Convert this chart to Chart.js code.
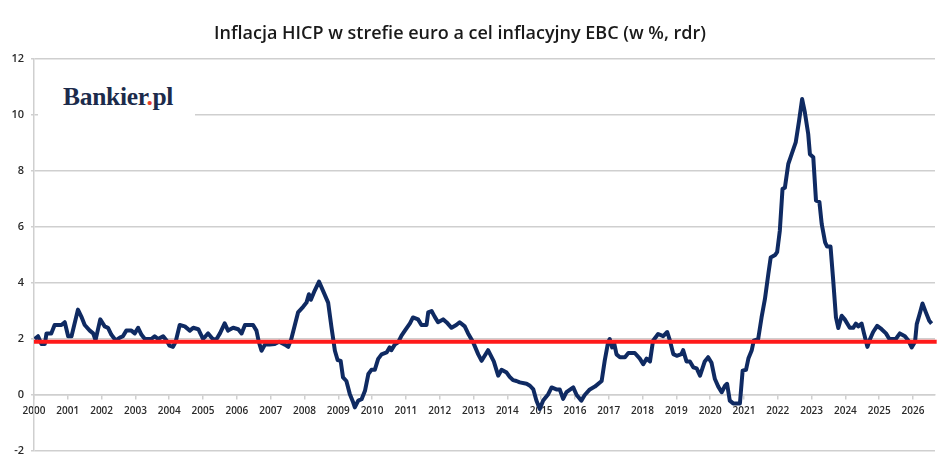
<!DOCTYPE html>
<html>
<head>
<meta charset="utf-8">
<script src="https://cdn.jsdelivr.net/npm/chart.js@4"></script>
<style>
  html, body { margin: 0; padding: 0; background: #fff; }
  #wrap { position: relative; width: 948px; height: 471px; }
  #title {
    position: absolute; left: 0; width: 920px; top: 20px;
    text-align: center; font-family: "Open Sans", sans-serif; font-weight: 600;
    font-size: 18px; color: #1a1a1a; white-space: nowrap;
  }
  #logo {
    position: absolute; left: 38px; top: 70px; width: 157px; height: 54px;
    background: #fff; font-family: "Liberation Serif", serif; font-weight: bold;
    font-size: 25.5px; color: #1c2b4b; padding-left: 25px; box-sizing: border-box;
    line-height: 54px; letter-spacing: -0.3px;
  }
  #logo span { color: #e8412c; }
</style>
</head>
<body>
<div id="wrap">
  <canvas id="chart" width="948" height="471"></canvas>
  <div id="title">Inflacja HICP w strefie euro a cel inflacyjny EBC (w %, rdr)</div>
  <div id="logo">Bankier<span>.</span>pl</div>
</div>
<script>
// =========================
//  DATA
// =========================
const hicpYears = [
  2000.02, 2000.12, 2000.22, 2000.32, 2000.37, 2000.51, 2000.61, 2000.81, 2000.91, 2001.01,
  2001.11, 2001.30, 2001.40, 2001.50, 2001.65, 2001.75, 2001.82, 2001.96, 2002.09, 2002.19,
  2002.29, 2002.42, 2002.54, 2002.63, 2002.73, 2002.88, 2002.98, 2003.08, 2003.18, 2003.28,
  2003.47, 2003.57, 2003.67, 2003.82, 2003.92, 2004.01, 2004.11, 2004.19, 2004.31, 2004.46,
  2004.61, 2004.71, 2004.86, 2005.00, 2005.15, 2005.30, 2005.40, 2005.50, 2005.64, 2005.74,
  2005.89, 2006.04, 2006.14, 2006.24, 2006.48, 2006.58, 2006.65, 2006.73, 2006.83, 2006.97,
  2007.12, 2007.25, 2007.42, 2007.52, 2007.61, 2007.71, 2007.81, 2007.96, 2008.06, 2008.13,
  2008.19, 2008.30, 2008.43, 2008.55, 2008.70, 2008.80, 2008.90, 2008.98, 2009.07, 2009.14,
  2009.24, 2009.34, 2009.44, 2009.49, 2009.59, 2009.69, 2009.79, 2009.89, 2009.98, 2010.08,
  2010.18, 2010.28, 2010.43, 2010.52, 2010.57, 2010.67, 2010.77, 2010.87, 2010.97, 2011.12,
  2011.21, 2011.36, 2011.46, 2011.61, 2011.66, 2011.76, 2011.85, 2011.95, 2012.10, 2012.20,
  2012.35, 2012.49, 2012.59, 2012.74, 2012.84, 2012.99, 2013.14, 2013.24, 2013.43, 2013.60,
  2013.73, 2013.83, 2013.98, 2014.07, 2014.17, 2014.27, 2014.37, 2014.57, 2014.67, 2014.77,
  2014.86, 2014.96, 2015.06, 2015.21, 2015.31, 2015.45, 2015.55, 2015.65, 2015.75, 2015.95,
  2016.05, 2016.19, 2016.29, 2016.44, 2016.59, 2016.79, 2016.88, 2016.98, 2017.03, 2017.10,
  2017.16, 2017.23, 2017.33, 2017.48, 2017.58, 2017.77, 2017.92, 2018.02, 2018.12, 2018.22,
  2018.31, 2018.46, 2018.61, 2018.73, 2018.81, 2018.91, 2019.01, 2019.15, 2019.20, 2019.30,
  2019.40, 2019.50, 2019.60, 2019.70, 2019.84, 2019.94, 2020.04, 2020.14, 2020.24, 2020.34,
  2020.44, 2020.50, 2020.58, 2020.68, 2020.88, 2020.96, 2021.06, 2021.13, 2021.23, 2021.29,
  2021.42, 2021.52, 2021.62, 2021.72, 2021.79, 2021.92, 2021.98, 2022.06, 2022.14, 2022.21,
  2022.31, 2022.41, 2022.53, 2022.63, 2022.72, 2022.80, 2022.90, 2022.95, 2023.05, 2023.13,
  2023.23, 2023.30, 2023.40, 2023.46, 2023.56, 2023.64, 2023.72, 2023.79, 2023.89, 2023.98,
  2024.13, 2024.23, 2024.31, 2024.38, 2024.48, 2024.55, 2024.65, 2024.73, 2024.82, 2024.94,
  2025.07, 2025.20, 2025.30, 2025.49, 2025.61, 2025.76, 2025.86, 2025.96, 2026.06, 2026.11,
  2026.21, 2026.28, 2026.38, 2026.48, 2026.55
];
const hicpValues = [
  2.0, 2.1, 1.82, 1.82, 2.2, 2.2, 2.5, 2.5, 2.6, 2.1,
  2.1, 3.05, 2.8, 2.5, 2.3, 2.2, 1.96, 2.7, 2.45, 2.4,
  2.15, 1.95, 2.05, 2.1, 2.3, 2.3, 2.2, 2.4, 2.15, 2.0,
  2.0, 2.1, 2.0, 2.1, 1.95, 1.76, 1.72, 1.9, 2.5, 2.45,
  2.3, 2.4, 2.35, 2.0, 2.2, 1.98, 2.0, 2.2, 2.56, 2.3,
  2.4, 2.35, 2.2, 2.5, 2.5, 2.3, 1.9, 1.58, 1.8, 1.8,
  1.82, 1.9, 1.8, 1.72, 2.0, 2.47, 2.95, 3.15, 3.3, 3.6,
  3.4, 3.72, 4.05, 3.72, 3.3, 2.41, 1.58, 1.25, 1.22, 0.63,
  0.5, 0.04, -0.26, -0.44, -0.2, -0.15, 0.15, 0.75, 0.9, 0.9,
  1.29, 1.45, 1.52, 1.7, 1.6, 1.8, 1.88, 2.12, 2.3, 2.56,
  2.77, 2.7, 2.5, 2.5, 2.95, 3.0, 2.8, 2.6, 2.7, 2.6,
  2.4, 2.5, 2.6, 2.45, 2.2, 1.88, 1.45, 1.22, 1.6, 1.2,
  0.69, 0.9, 0.8, 0.65, 0.53, 0.5, 0.45, 0.4, 0.33, 0.2,
  -0.2, -0.5, -0.2, 0.03, 0.27, 0.2, 0.2, -0.14, 0.1, 0.27,
  0.0, -0.2, 0.0, 0.2, 0.3, 0.5, 1.22, 1.88, 2.0, 1.7,
  1.85, 1.45, 1.35, 1.35, 1.5, 1.5, 1.3, 1.1, 1.3, 1.2,
  1.94, 2.18, 2.1, 2.25, 1.94, 1.46, 1.4, 1.46, 1.6, 1.2,
  1.2, 0.99, 0.95, 0.69, 1.2, 1.35, 1.15, 0.57, 0.3, 0.1,
  0.33, 0.4, -0.2, -0.3, -0.3, 0.87, 0.9, 1.3, 1.6, 1.94,
  2.0, 2.77, 3.43, 4.32, 4.91, 5.0, 5.1, 5.87, 7.36, 7.4,
  8.25, 8.6, 9.02, 9.8, 10.57, 10.1, 9.32, 8.6, 8.49, 6.94,
  6.9, 6.1, 5.45, 5.3, 5.3, 4.08, 2.77, 2.39, 2.83, 2.7,
  2.4, 2.4, 2.55, 2.45, 2.55, 2.2, 1.72, 2.0, 2.25, 2.47,
  2.35, 2.2, 2.0, 2.0, 2.2, 2.1, 1.95, 1.7, 1.9, 2.53,
  2.95, 3.27, 2.95, 2.65, 2.55
];
const targetYears = [2000, 2026.7];
const targetValues = [1.9, 1.9];

const yTicks = [-2, 0, 2, 4, 6, 8, 10, 12];

// =========================
//  CHART
// =========================
const toPoints = (xs, ys) => xs.map((x, i) => ({ x, y: ys[i] }));
const gridGray = "#cfcfcf";

new Chart(document.getElementById("chart"), {
    type: "line",
    data: {
        datasets: [
            {
                label: "HICP",
                data: toPoints(hicpYears, hicpValues),
                borderColor: "#0f2a62",
                borderWidth: 4,
                pointRadius: 0,
                tension: 0,
                borderJoinStyle: "round",
                order: 2
            },
            {
                label: "Cel EBC",
                data: toPoints(targetYears, targetValues),
                borderColor: "#ff1a1a",
                borderWidth: 4,
                pointRadius: 0,
                clip: false,
                order: 1
            }
        ]
    },
    options: {
        responsive: false,
        animation: false,
        layout: { padding: { top: 59, right: 13, left: 0, bottom: 20 } },
        plugins: { legend: { display: false }, tooltip: { enabled: false } },
        scales: {
            x: {
                type: "linear",
                position: { y: 0 },
                min: 2000,
                max: 2026.65,
                grid: {
                    drawOnChartArea: false,
                    drawTicks: true,
                    tickLength: 4,
                    tickColor: gridGray,
                    lineWidth: 1.5
                },
                border: { display: true, color: gridGray, width: 1.5 },
                ticks: {
                    stepSize: 1,
                    includeBounds: false,
                    autoSkip: false,
                    maxRotation: 0,
                    padding: 6,
                    color: "#2a2a2a",
                    font: { family: "Open Sans", size: 10, weight: "600" },
                    callback: v => String(v)
                }
            },
            y: {
                min: -2,
                max: 12,
                afterFit: s => { s.width = 34; },
                afterBuildTicks: s => { s.ticks = yTicks.map(v => ({ value: v })); },
                grid: {
                    color: gridGray,
                    lineWidth: 1.5,
                    tickLength: 3
                },
                border: { display: true, color: gridGray, width: 1.5 },
                ticks: {
                    padding: 7,
                    color: "#2a2a2a",
                    font: { family: "Open Sans", size: 11, weight: "600" }
                }
            }
        }
    }
});
</script>
</body>
</html>
